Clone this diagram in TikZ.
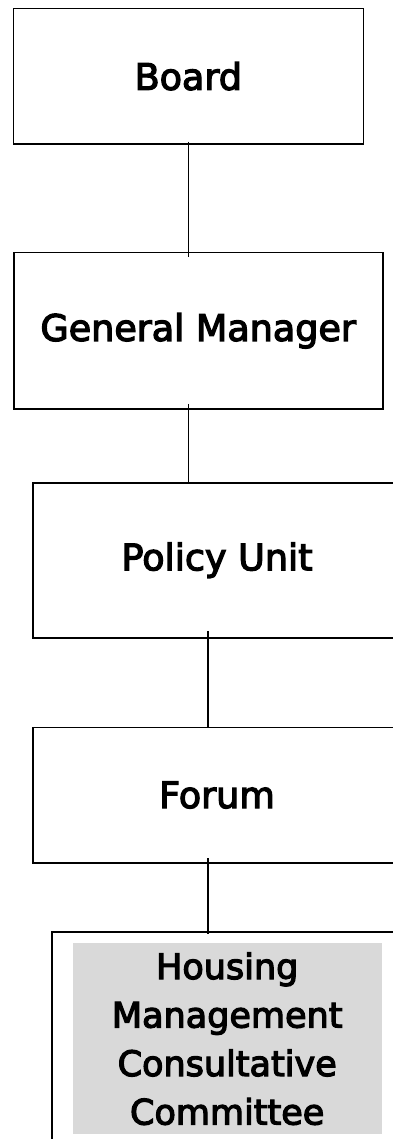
\documentclass[tikz,border=0pt]{standalone}
\usepackage{fontspec}
\setmainfont{DejaVu Sans}
\newfontfamily\orgfont[FakeBold=3.5]{DejaVu Sans}
\usetikzlibrary{calc}
\definecolor{boxgray}{HTML}{D9D9D9}
\tikzset{
  orgbox/.style={draw=black, line width=1.6pt, rectangle, inner sep=0pt, font=\orgfont\fontsize{36.5}{44}\selectfont},
  graybox/.style={fill=boxgray, draw=none, rectangle, inner sep=0pt, align=center, font=\orgfont\fontsize{35}{48.5}\selectfont},
  link/.style={draw=black, line width=1.6pt}
}
\begin{document}
\begin{tikzpicture}[x=1pt,y=-1pt]
\useasboundingbox (0,0) rectangle (393,1139);
\clip (0,0) rectangle (393,1139);
\node[orgbox, minimum width=350, minimum height=135.7] (board) at (188.3,76.2) {Board};
\node[orgbox, minimum width=369, minimum height=156.3] (gm) at (198.2,330.8) {General Manager};
\node[orgbox, minimum width=368, minimum height=155] (policy) at (217,560.2) {Policy Unit};
\node[orgbox, minimum width=368, minimum height=135.4] (forum) at (217,795) {Forum};
\node[orgbox, minimum width=350, minimum height=230] (hmccbox) at (226.7,1046.7) {};
\node[graybox, minimum width=309, minimum height=190.7] (hmcc) at (227.2,1038.7) {Housing\\Management\\Consultative\\Committee};
\coordinate (c3) at ([xshift=-9.3pt]policy.south);
\coordinate (c4) at ([xshift=-9.3pt]forum.south);
\draw[link] ([yshift=3.3pt]board.south) -- ([yshift=-5pt]board.south |- gm.north);
\draw[link] ([yshift=6pt]board.south |- gm.south) -- ([yshift=-1pt]board.south |- policy.north);
\draw[link] ([yshift=7.7pt]c3) -- ([yshift=-1pt]c3 |- forum.north);
\draw[link] ([yshift=5.4pt]c4) -- ([yshift=-3.3pt]c4 |- hmccbox.north);
\end{tikzpicture}
\end{document}
